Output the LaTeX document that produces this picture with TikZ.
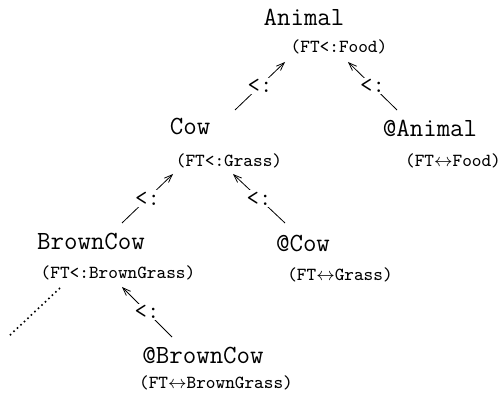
\documentclass[tikz,border=0pt]{standalone}
\usetikzlibrary{arrows.meta}
\begin{document}
\begin{tikzpicture}%
	[x=0.5pt, y=-0.5pt,
	classname/.style={font=\fontsize{13.1}{15}\selectfont\ttfamily, inner sep=0pt},
	typemem/.style={font=\fontsize{9.2}{11}\selectfont\ttfamily, inner sep=0pt},
	subedge/.style={-{Straight Barb[length=4pt,width=3pt]}, line width=0.4pt},
	subsign/.style={font=\fontsize{12}{14}\selectfont\ttfamily, fill=white, inner sep=0.8pt}]
\useasboundingbox (0,0) rectangle (502,394);
%
%% Classes and their type members
%%
\node[classname] (animal) at (304,17) {Animal};
\node[typemem] (animalft) at (339,47) {(FT<:Food)};
\node[classname] (cow) at (190,127) {Cow};
\node[typemem] (cowft) at (229,161) {(FT<:Grass)};
\node[classname] (atanimal) at (430,128) {@Animal};
\node[typemem] (atanimalft) at (453,161) {(FT$\leftrightarrow$Food)};
\node[classname] (browncow) at (91,241) {BrownCow};
\node[typemem] (browncowft) at (118,273) {(FT<:BrownGrass)};
\node[classname] (atcow) at (303,243) {@Cow};
\node[typemem] (atcowft) at (340,275) {(FT$\leftrightarrow$Grass)};
\node[classname] (atbrowncow) at (203,355) {@BrownCow};
\node[typemem] (atbrowncowft) at (216,383) {(FT$\leftrightarrow$BrownGrass)};
\coordinate (more) at (8,337);
%%
%% Subtyping edges
%%
\draw[subedge] ([shift={(45,-17)}]cow.center) -- ([shift={(-54,15)}]animalft.center)
	node[subsign, midway] {<:};
\draw[subedge] ([shift={(-33,-18)}]atanimal.center) -- ([shift={(9,15)}]animalft.center)
	node[subsign, midway] {<:};
\draw[subedge] ([shift={(31,-18)}]browncow.center) -- ([shift={(-56,13)}]cowft.center)
	node[subsign, midway] {<:};
\draw[subedge] ([shift={(-18,-20)}]atcow.center) -- ([shift={(4,13)}]cowft.center)
	node[subsign, midway] {<:};
\draw[subedge] ([shift={(-31,-18)}]atbrowncow.center) -- ([shift={(4,14)}]browncowft.center)
	node[subsign, midway] {<:};
\draw[line width=0.8pt, dash pattern=on 0.8pt off 1.6pt] ([shift={(-58,15)}]browncowft.center) -- (more);
%%
\end{tikzpicture}
\end{document}
